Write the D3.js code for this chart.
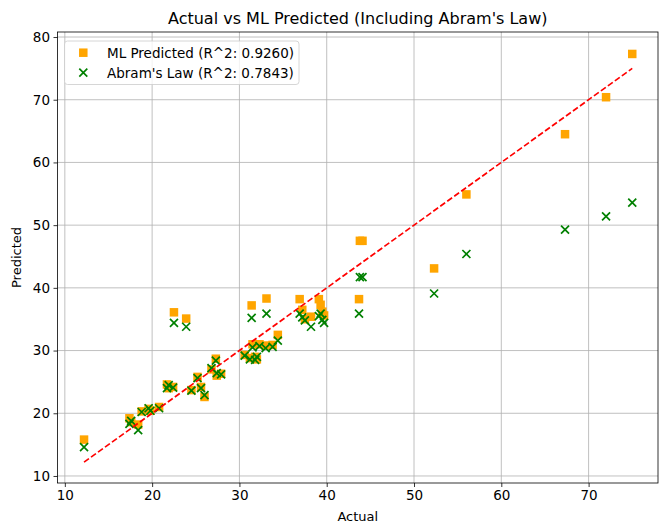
<!DOCTYPE html>
<html><head><meta charset="utf-8">
<script src="https://cdn.jsdelivr.net/npm/d3@7"></script>
<style>html,body{margin:0;padding:0;background:#fff;}svg{display:block;font-family:"DejaVu Sans",sans-serif;}</style>
</head><body>
<svg id="chart" width="659" height="532"></svg>
<script>
const actual = [12.2,17.4,17.6,18.4,18.8,19.6,19.8,20.8,21.7,21.9,22.4,22.5,23.9,24.5,25.2,25.6,26.0,26.8,27.3,27.4,27.9,30.6,31.2,31.4,31.5,31.8,32.0,32.3,33.0,33.1,33.8,34.4,36.9,37.2,37.5,38.2,39.1,39.3,39.5,39.7,43.7,43.8,44.1,52.3,56.0,67.3,72.0,75.0];
const mlPredicted = [15.8,19.2,18.6,18.2,20.3,20.7,20.4,21.0,24.6,24.0,24.2,36.1,35.1,23.7,25.8,24.2,22.6,27.0,28.7,26.0,26.3,29.3,28.8,37.2,31.0,29.0,28.6,31.0,30.8,38.3,30.9,32.5,38.2,36.5,35.0,35.4,38.2,37.3,36.2,35.6,38.2,47.5,47.5,43.1,54.9,64.5,70.4,77.3];
const abramsLaw = [14.6,18.3,18.8,17.3,20.2,20.8,20.4,20.8,24.0,24.5,24.1,34.4,33.8,23.6,25.6,24.0,22.9,27.2,28.4,26.4,26.2,29.2,28.6,35.2,30.5,28.5,29.0,30.7,30.4,35.9,30.6,31.6,35.9,35.3,34.8,33.8,35.5,35.9,34.9,34.4,35.9,41.7,41.7,39.1,45.4,49.3,51.4,53.6];
const xTicks = [10,20,30,40,50,60,70];
const yTicks = [10,20,30,40,50,60,70,80];
const titleText = "Actual vs ML Predicted (Including Abram's Law)";
const legendLabels = ["ML Predicted (R^2: 0.9260)", "Abram's Law (R^2: 0.7843)"];

const svg = d3.select("#chart");
const L = 57.5, R = 658, T = 32, B = 483;
const x = d3.scaleLinear().domain([9.16, 77.95]).range([L, R]);
const y = d3.scaleLinear().domain([8.88, 80.8]).range([B, T]);

// grid
const g = svg.append("g");
g.selectAll(".gx").data(xTicks).join("line")
  .attr("x1", d => x(d)).attr("x2", d => x(d)).attr("y1", T).attr("y2", B)
  .attr("stroke", "#b0b0b0").attr("stroke-width", 0.8);
g.selectAll(".gy").data(yTicks).join("line")
  .attr("y1", d => y(d)).attr("y2", d => y(d)).attr("x1", L).attr("x2", R)
  .attr("stroke", "#b0b0b0").attr("stroke-width", 0.8);

// axes
const xAxis = d3.axisBottom(x).tickValues(xTicks).tickSize(4).tickPadding(3.5);
const yAxis = d3.axisLeft(y).tickValues(yTicks).tickSize(4).tickPadding(3.5);
const gx = svg.append("g").attr("transform", `translate(0,${B})`).call(xAxis);
const gy = svg.append("g").attr("transform", `translate(${L},0)`).call(yAxis);
[gx, gy].forEach(a => {
  a.select(".domain").remove();
  a.selectAll("text").attr("font-size", 13.5).attr("fill", "#000").attr("font-family", "DejaVu Sans");
  a.selectAll("line").attr("stroke", "#000").attr("stroke-width", 0.8);
});

// scatter: ML predicted (orange squares)
const sq = 8.5;
svg.append("g").selectAll("rect").data(actual.map((a, i) => [a, mlPredicted[i]])).join("rect")
  .attr("x", d => x(d[0]) - sq / 2).attr("y", d => y(d[1]) - sq / 2)
  .attr("width", sq).attr("height", sq).attr("fill", "#ffa500");

// Abram's law (green x)
const xs = 4;
const gg = svg.append("g");
actual.forEach((a, i) => {
  const cx = x(a), cy = y(abramsLaw[i]);
  gg.append("path").attr("d", `M${cx - xs},${cy - xs}L${cx + xs},${cy + xs}M${cx - xs},${cy + xs}L${cx + xs},${cy - xs}`)
    .attr("stroke", "#008000").attr("stroke-width", 1.7).attr("fill", "none");
});

// identity line
const lo = d3.min(actual), hi = d3.max(actual);
svg.append("line").attr("x1", x(lo)).attr("y1", y(lo)).attr("x2", x(hi)).attr("y2", y(hi))
  .attr("stroke", "#ff0000").attr("stroke-width", 1.7).attr("stroke-dasharray", "6,2.6");

// spines
svg.append("rect").attr("x", L).attr("y", T).attr("width", R - L).attr("height", B - T)
  .attr("fill", "none").attr("stroke", "#000").attr("stroke-width", 0.8);

// title & labels
svg.append("text").attr("x", (L + R) / 2).attr("y", 24).attr("text-anchor", "middle")
  .attr("font-size", 16).attr("fill", "#000").text(titleText);
svg.append("text").attr("x", (L + R) / 2).attr("y", 521).attr("text-anchor", "middle")
  .attr("font-size", 13).attr("fill", "#000").text("Actual");
svg.append("text").attr("transform", `translate(21,${(T + B) / 2}) rotate(-90)`).attr("text-anchor", "middle")
  .attr("font-size", 13).attr("fill", "#000").text("Predicted");

// legend
const lg = svg.append("g");
lg.append("rect").attr("x", 64.5).attr("y", 41).attr("width", 234.5).attr("height", 43.5).attr("rx", 3)
  .attr("fill", "#fff").attr("fill-opacity", 0.8).attr("stroke", "#cccccc").attr("stroke-width", 0.8);
lg.append("rect").attr("x", 83.3 - sq / 2).attr("y", 52.7 - sq / 2).attr("width", sq).attr("height", sq).attr("fill", "#ffa500");
lg.append("path").attr("d", `M${83.3 - xs},${72.7 - xs}L${83.3 + xs},${72.7 + xs}M${83.3 - xs},${72.7 + xs}L${83.3 + xs},${72.7 - xs}`)
  .attr("stroke", "#008000").attr("stroke-width", 1.7);
lg.selectAll("text").data(legendLabels).join("text")
  .attr("x", 107).attr("y", (d, i) => 57.5 + i * 20).attr("font-size", 13.5).attr("fill", "#000").text(d => d);
</script>
</body></html>
